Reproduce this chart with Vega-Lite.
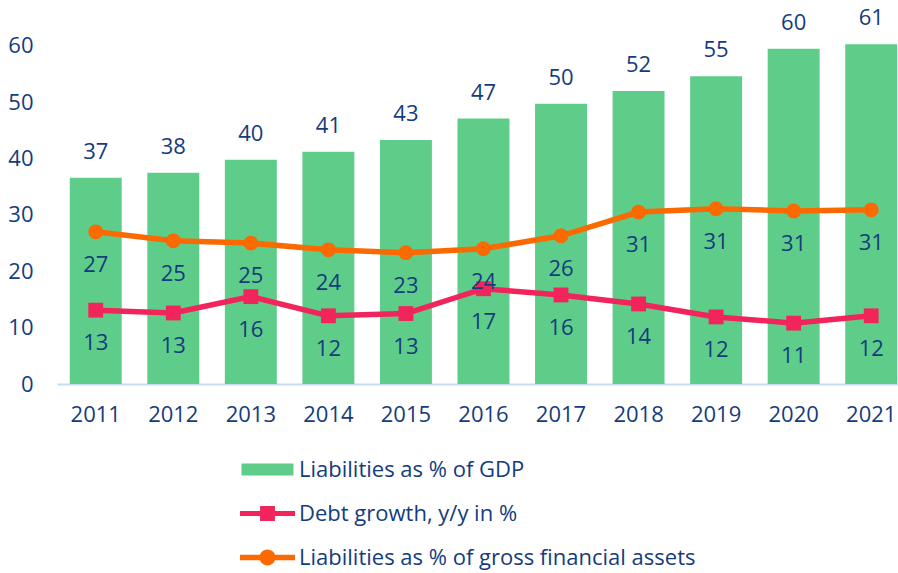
{
  "$schema": "https://vega.github.io/schema/vega-lite/v6.json",
  "autosize": "none",
  "width": 841,
  "height": 372,
  "padding": {"left": 57, "top": 12, "right": 0, "bottom": 189},
  "background": "white",
  "config": {
    "view": {"stroke": null},
    "font": "Open Sans",
    "text": {"font": "Open Sans"}
  },
  "data": {
    "values": [
      {"year": "2011", "series": "Liabilities as % of GDP", "value": 36.6, "label": "37"},
      {"year": "2012", "series": "Liabilities as % of GDP", "value": 37.5, "label": "38"},
      {"year": "2013", "series": "Liabilities as % of GDP", "value": 39.8, "label": "40"},
      {"year": "2014", "series": "Liabilities as % of GDP", "value": 41.2, "label": "41"},
      {"year": "2015", "series": "Liabilities as % of GDP", "value": 43.3, "label": "43"},
      {"year": "2016", "series": "Liabilities as % of GDP", "value": 47.1, "label": "47"},
      {"year": "2017", "series": "Liabilities as % of GDP", "value": 49.7, "label": "50"},
      {"year": "2018", "series": "Liabilities as % of GDP", "value": 52.0, "label": "52"},
      {"year": "2019", "series": "Liabilities as % of GDP", "value": 54.6, "label": "55"},
      {"year": "2020", "series": "Liabilities as % of GDP", "value": 59.5, "label": "60"},
      {"year": "2021", "series": "Liabilities as % of GDP", "value": 60.3, "label": "61"},
      {"year": "2011", "series": "Debt growth, y/y in %", "value": 13.1, "label": "13"},
      {"year": "2012", "series": "Debt growth, y/y in %", "value": 12.6, "label": "13"},
      {"year": "2013", "series": "Debt growth, y/y in %", "value": 15.5, "label": "16"},
      {"year": "2014", "series": "Debt growth, y/y in %", "value": 12.1, "label": "12"},
      {"year": "2015", "series": "Debt growth, y/y in %", "value": 12.5, "label": "13"},
      {"year": "2016", "series": "Debt growth, y/y in %", "value": 16.9, "label": "17"},
      {"year": "2017", "series": "Debt growth, y/y in %", "value": 15.8, "label": "16"},
      {"year": "2018", "series": "Debt growth, y/y in %", "value": 14.2, "label": "14"},
      {"year": "2019", "series": "Debt growth, y/y in %", "value": 11.9, "label": "12"},
      {"year": "2020", "series": "Debt growth, y/y in %", "value": 10.8, "label": "11"},
      {"year": "2021", "series": "Debt growth, y/y in %", "value": 12.1, "label": "12"},
      {"year": "2011", "series": "Liabilities as % of gross financial assets", "value": 27.0, "label": "27"},
      {"year": "2012", "series": "Liabilities as % of gross financial assets", "value": 25.4, "label": "25"},
      {"year": "2013", "series": "Liabilities as % of gross financial assets", "value": 25.0, "label": "25"},
      {"year": "2014", "series": "Liabilities as % of gross financial assets", "value": 23.8, "label": "24"},
      {"year": "2015", "series": "Liabilities as % of gross financial assets", "value": 23.3, "label": "23"},
      {"year": "2016", "series": "Liabilities as % of gross financial assets", "value": 24.0, "label": "24"},
      {"year": "2017", "series": "Liabilities as % of gross financial assets", "value": 26.3, "label": "26"},
      {"year": "2018", "series": "Liabilities as % of gross financial assets", "value": 30.5, "label": "31"},
      {"year": "2019", "series": "Liabilities as % of gross financial assets", "value": 31.1, "label": "31"},
      {"year": "2020", "series": "Liabilities as % of gross financial assets", "value": 30.7, "label": "31"},
      {"year": "2021", "series": "Liabilities as % of gross financial assets", "value": 30.9, "label": "31"}
    ]
  },
  "encoding": {
    "x": {
      "field": "year", "type": "ordinal",
      "scale": {"paddingInner": 0.33, "paddingOuter": 0.0875, "align": 0.94},
      "axis": {
        "title": null, "labelAngle": 0, "ticks": false,
        "domainColor": "#c6dcf5", "domainWidth": 2,
        "labelFontSize": 22, "labelColor": "#143c7d", "labelPadding": 20,
        "labelFont": "Open Sans"
      }
    },
    "y": {
      "field": "value", "type": "quantitative",
      "scale": {"domain": [0, 66], "nice": false},
      "axis": {
        "title": null, "values": [0, 10, 20, 30, 40, 50, 60],
        "domain": false, "ticks": false, "grid": false,
        "labelFontSize": 22, "labelColor": "#143c7d", "labelPadding": 24,
        "labelFont": "Open Sans"
      }
    }
  },
  "layer": [
    {
      "transform": [{"filter": "datum.series === 'Liabilities as % of GDP'"}],
      "mark": {"type": "bar"},
      "encoding": {
        "color": {
          "field": "series", "type": "nominal",
          "scale": {
            "domain": ["Liabilities as % of GDP", "Debt growth, y/y in %", "Liabilities as % of gross financial assets"],
            "range": ["#5fcd8a", "#f2245c", "#fa6a00"]
          },
          "legend": {
            "title": null,
            "orient": "none",
            "legendX": 183,
            "legendY": 430,
            "direction": "vertical",
            "symbolSize": 3025,
            "symbolStrokeWidth": 0,
            "labelFontSize": 22,
            "labelColor": "#143c7d",
            "labelFont": "Open Sans",
            "labelOffset": 4,
            "labelLimit": 500,
            "rowPadding": 5,
            "encode": {
              "symbols": {
                "update": {
                  "fill": {"signal": "scale('color', datum.value)"},
                  "stroke": {"value": "transparent"},
                  "opacity": {"value": 1},
                  "shape": {"signal": "datum.value === 'Liabilities as % of GDP' ? 'M-0.945,-0.22H0.945V0.22H-0.945Z' : (datum.value === 'Debt growth, y/y in %' ? 'M-1,-0.09H1V0.09H-1Z M-0.27,-0.27H0.27V0.27H-0.27Z' : 'M-1,-0.1H1V0.1H-1Z M-0.29,0A0.29,0.29 0 1,1 0.29,0A0.29,0.29 0 1,1 -0.29,0Z')"}
                }
              }
            }
          }
        }
      }
    },
    {
      "transform": [{"filter": "datum.series === 'Liabilities as % of GDP'"}],
      "mark": {"type": "text", "dy": -26, "fontSize": 22, "color": "#143c7d", "baseline": "middle"},
      "encoding": {"text": {"field": "label"}}
    },
    {
      "transform": [{"filter": "datum.series !== 'Liabilities as % of GDP'"}],
      "mark": {"type": "line", "strokeWidth": 5.5, "strokeCap": "round"},
      "encoding": {
        "color": {"field": "series", "type": "nominal"},
        "detail": {"field": "series"}
      }
    },
    {
      "transform": [{"filter": "datum.series !== 'Liabilities as % of GDP'"}],
      "mark": {"type": "point", "filled": true, "size": 220, "opacity": 1},
      "encoding": {
        "color": {"field": "series", "type": "nominal"},
        "shape": {
          "field": "series", "type": "nominal",
          "scale": {"domain": ["Debt growth, y/y in %", "Liabilities as % of gross financial assets"], "range": ["square", "circle"]},
          "legend": null
        }
      }
    },
    {
      "transform": [{"filter": "datum.series !== 'Liabilities as % of GDP'"}],
      "mark": {"type": "text", "dy": 33, "fontSize": 22, "color": "#143c7d", "baseline": "middle"},
      "encoding": {"text": {"field": "label"}}
    }
  ]
}
